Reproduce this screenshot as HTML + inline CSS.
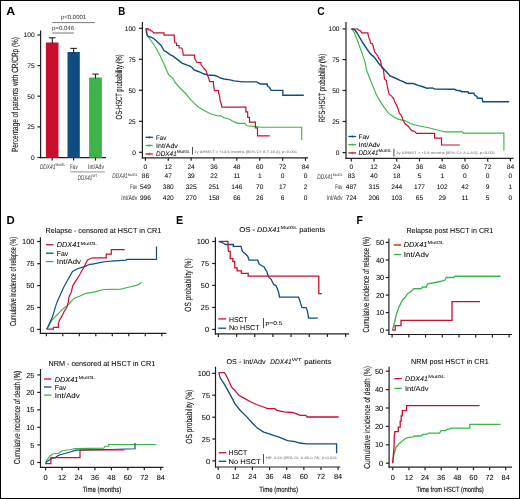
<!DOCTYPE html>
<html><head><meta charset="utf-8"><style>
html,body{margin:0;padding:0;background:#fff;}
body{width:520px;height:499px;overflow:hidden;}
svg{display:block;will-change:transform;text-rendering:geometricPrecision;font-family:"Liberation Sans",sans-serif;}
</style></head><body>
<svg width="520" height="499" viewBox="0 0 520 499">
<rect x="0.5" y="0.5" width="519" height="498" fill="#fff" stroke="#000" stroke-width="1"/>
<text x="6.3" y="15.44" font-size="11.5" textLength="8.9" lengthAdjust="spacingAndGlyphs" font-weight="bold">A</text>
<line x1="40.6" y1="30.6" x2="40.6" y2="158.3" stroke="#231f20" stroke-width="1.2"/>
<line x1="40.05" y1="157.7" x2="106" y2="157.7" stroke="#231f20" stroke-width="1.2"/>
<line x1="37.4" y1="35" x2="40.6" y2="35" stroke="#231f20" stroke-width="1.2"/>
<text x="34.6" y="37.38" font-size="6.6" text-anchor="end" stroke="#231f20" stroke-width="0.05">100</text>
<line x1="37.4" y1="65.6" x2="40.6" y2="65.6" stroke="#231f20" stroke-width="1.2"/>
<text x="34.6" y="67.98" font-size="6.6" text-anchor="end" stroke="#231f20" stroke-width="0.05">75</text>
<line x1="37.4" y1="96.2" x2="40.6" y2="96.2" stroke="#231f20" stroke-width="1.2"/>
<text x="34.6" y="98.58" font-size="6.6" text-anchor="end" stroke="#231f20" stroke-width="0.05">50</text>
<line x1="37.4" y1="126.9" x2="40.6" y2="126.9" stroke="#231f20" stroke-width="1.2"/>
<text x="34.6" y="129.28" font-size="6.6" text-anchor="end" stroke="#231f20" stroke-width="0.05">25</text>
<line x1="37.4" y1="157.5" x2="40.6" y2="157.5" stroke="#231f20" stroke-width="1.2"/>
<text x="34.6" y="159.88" font-size="6.6" text-anchor="end" stroke="#231f20" stroke-width="0.05">0</text>
<rect x="45.9" y="42.5" width="12.6" height="115.2" fill="#c8102e"/>
<rect x="67.5" y="52" width="12.3" height="105.7" fill="#0f4c81"/>
<rect x="89.1" y="77.5" width="12.8" height="80.2" fill="#3db54a"/>
<line x1="52.3" y1="37.8" x2="52.3" y2="43.5" stroke="#231f20" stroke-width="1.1"/>
<line x1="49.1" y1="37.8" x2="55.5" y2="37.8" stroke="#231f20" stroke-width="1.1"/>
<line x1="73.6" y1="48.4" x2="73.6" y2="53" stroke="#231f20" stroke-width="1.1"/>
<line x1="70.4" y1="48.4" x2="76.8" y2="48.4" stroke="#231f20" stroke-width="1.1"/>
<line x1="95.5" y1="74.1" x2="95.5" y2="78.5" stroke="#231f20" stroke-width="1.1"/>
<line x1="92.3" y1="74.1" x2="98.7" y2="74.1" stroke="#231f20" stroke-width="1.1"/>
<line x1="52.2" y1="157.7" x2="52.2" y2="160.6" stroke="#231f20" stroke-width="1.2"/>
<line x1="73.6" y1="157.7" x2="73.6" y2="160.6" stroke="#231f20" stroke-width="1.2"/>
<line x1="95.5" y1="157.7" x2="95.5" y2="160.6" stroke="#231f20" stroke-width="1.2"/>
<line x1="52.3" y1="22.6" x2="94.9" y2="22.6" stroke="#555" stroke-width="0.8"/>
<line x1="52.3" y1="33" x2="74" y2="33" stroke="#555" stroke-width="0.8"/>
<text x="61" y="18.86" font-size="6" textLength="25.2" lengthAdjust="spacingAndGlyphs" fill="#444" stroke="#444" stroke-width="0.04">p&lt;0.0001</text>
<text x="52" y="30.06" font-size="6" textLength="22" lengthAdjust="spacingAndGlyphs" fill="#444" stroke="#444" stroke-width="0.04">p=0.046</text>
<text transform="translate(14.8,94.6) rotate(-90)" x="0" y="3.24" font-size="9" text-anchor="middle" textLength="115" lengthAdjust="spacingAndGlyphs" stroke="#231f20" stroke-width="0.08">Percentage of patients with CR/CRp (%)</text>
<text x="39.9" y="169.15" font-size="6.8" textLength="15.5" lengthAdjust="spacingAndGlyphs" font-style="italic" fill="#444" stroke="#444" stroke-width="0.05">DDX41</text>
<text x="55.6" y="166.44" font-size="4" textLength="9.6" lengthAdjust="spacingAndGlyphs" fill="#444" stroke="#444" stroke-width="0.03">MutGL</text>
<text x="70" y="169.15" font-size="6.8" textLength="7.7" lengthAdjust="spacingAndGlyphs" fill="#444" stroke="#444" stroke-width="0.05">Fav</text>
<text x="88.1" y="169.15" font-size="6.8" textLength="15.9" lengthAdjust="spacingAndGlyphs" fill="#444" stroke="#444" stroke-width="0.05">Int/Adv</text>
<line x1="70" y1="171.9" x2="104.75" y2="171.9" stroke="#888" stroke-width="0.9"/>
<text x="77.7" y="179.85" font-size="6.8" textLength="14.5" lengthAdjust="spacingAndGlyphs" font-style="italic" fill="#444" stroke="#444" stroke-width="0.05">DDX41</text>
<text x="92.4" y="177.04" font-size="4" textLength="4.7" lengthAdjust="spacingAndGlyphs" fill="#444" stroke="#444" stroke-width="0.03">WT</text>
<text x="118.3" y="15.44" font-size="11.5" textLength="7" lengthAdjust="spacingAndGlyphs" font-weight="bold">B</text>
<line x1="142.4" y1="21.9" x2="142.4" y2="158.4" stroke="#231f20" stroke-width="1.2"/>
<line x1="141.85" y1="157.8" x2="308" y2="157.8" stroke="#231f20" stroke-width="1.2"/>
<line x1="139" y1="28.3" x2="142.4" y2="28.3" stroke="#231f20" stroke-width="1.2"/>
<text x="135.8" y="30.68" font-size="6.6" text-anchor="end" stroke="#231f20" stroke-width="0.05">100</text>
<line x1="139" y1="59.3" x2="142.4" y2="59.3" stroke="#231f20" stroke-width="1.2"/>
<text x="135.8" y="61.68" font-size="6.6" text-anchor="end" stroke="#231f20" stroke-width="0.05">75</text>
<line x1="139" y1="90.3" x2="142.4" y2="90.3" stroke="#231f20" stroke-width="1.2"/>
<text x="135.8" y="92.68" font-size="6.6" text-anchor="end" stroke="#231f20" stroke-width="0.05">50</text>
<line x1="139" y1="121.3" x2="142.4" y2="121.3" stroke="#231f20" stroke-width="1.2"/>
<text x="135.8" y="123.68" font-size="6.6" text-anchor="end" stroke="#231f20" stroke-width="0.05">25</text>
<line x1="139" y1="152.3" x2="142.4" y2="152.3" stroke="#231f20" stroke-width="1.2"/>
<text x="135.8" y="154.68" font-size="6.6" text-anchor="end" stroke="#231f20" stroke-width="0.05">0</text>
<line x1="145.4" y1="157.8" x2="145.4" y2="160.8" stroke="#231f20" stroke-width="1.2"/>
<text x="145.4" y="168.58" font-size="6.6" text-anchor="middle" stroke="#231f20" stroke-width="0.05">0</text>
<line x1="168.27" y1="157.8" x2="168.27" y2="160.8" stroke="#231f20" stroke-width="1.2"/>
<text x="168.27" y="168.58" font-size="6.6" text-anchor="middle" stroke="#231f20" stroke-width="0.05">12</text>
<line x1="191.14" y1="157.8" x2="191.14" y2="160.8" stroke="#231f20" stroke-width="1.2"/>
<text x="191.14" y="168.58" font-size="6.6" text-anchor="middle" stroke="#231f20" stroke-width="0.05">24</text>
<line x1="214.01" y1="157.8" x2="214.01" y2="160.8" stroke="#231f20" stroke-width="1.2"/>
<text x="214.01" y="168.58" font-size="6.6" text-anchor="middle" stroke="#231f20" stroke-width="0.05">36</text>
<line x1="236.88" y1="157.8" x2="236.88" y2="160.8" stroke="#231f20" stroke-width="1.2"/>
<text x="236.88" y="168.58" font-size="6.6" text-anchor="middle" stroke="#231f20" stroke-width="0.05">48</text>
<line x1="259.75" y1="157.8" x2="259.75" y2="160.8" stroke="#231f20" stroke-width="1.2"/>
<text x="259.75" y="168.58" font-size="6.6" text-anchor="middle" stroke="#231f20" stroke-width="0.05">60</text>
<line x1="282.62" y1="157.8" x2="282.62" y2="160.8" stroke="#231f20" stroke-width="1.2"/>
<text x="282.62" y="168.58" font-size="6.6" text-anchor="middle" stroke="#231f20" stroke-width="0.05">72</text>
<line x1="305.49" y1="157.8" x2="305.49" y2="160.8" stroke="#231f20" stroke-width="1.2"/>
<text x="305.49" y="168.58" font-size="6.6" text-anchor="middle" stroke="#231f20" stroke-width="0.05">84</text>
<text transform="translate(118.5,86.9) rotate(-90)" x="0" y="3.24" font-size="9" text-anchor="middle" textLength="65" lengthAdjust="spacingAndGlyphs" stroke="#231f20" stroke-width="0.08">OS-HSCT probability (%)</text>
<text x="145.4" y="178.18" font-size="6.6" text-anchor="middle" stroke="#231f20" stroke-width="0.05">86</text>
<text x="168.27" y="178.18" font-size="6.6" text-anchor="middle" stroke="#231f20" stroke-width="0.05">47</text>
<text x="191.14" y="178.18" font-size="6.6" text-anchor="middle" stroke="#231f20" stroke-width="0.05">39</text>
<text x="214.01" y="178.18" font-size="6.6" text-anchor="middle" stroke="#231f20" stroke-width="0.05">22</text>
<text x="236.88" y="178.18" font-size="6.6" text-anchor="middle" stroke="#231f20" stroke-width="0.05">11</text>
<text x="259.75" y="178.18" font-size="6.6" text-anchor="middle" stroke="#231f20" stroke-width="0.05">1</text>
<text x="282.62" y="178.18" font-size="6.6" text-anchor="middle" stroke="#231f20" stroke-width="0.05">0</text>
<text x="305.49" y="178.18" font-size="6.6" text-anchor="middle" stroke="#231f20" stroke-width="0.05">0</text>
<text x="145.4" y="188.78" font-size="6.6" text-anchor="middle" stroke="#231f20" stroke-width="0.05">549</text>
<text x="168.27" y="188.78" font-size="6.6" text-anchor="middle" stroke="#231f20" stroke-width="0.05">380</text>
<text x="191.14" y="188.78" font-size="6.6" text-anchor="middle" stroke="#231f20" stroke-width="0.05">325</text>
<text x="214.01" y="188.78" font-size="6.6" text-anchor="middle" stroke="#231f20" stroke-width="0.05">251</text>
<text x="236.88" y="188.78" font-size="6.6" text-anchor="middle" stroke="#231f20" stroke-width="0.05">146</text>
<text x="259.75" y="188.78" font-size="6.6" text-anchor="middle" stroke="#231f20" stroke-width="0.05">70</text>
<text x="282.62" y="188.78" font-size="6.6" text-anchor="middle" stroke="#231f20" stroke-width="0.05">17</text>
<text x="305.49" y="188.78" font-size="6.6" text-anchor="middle" stroke="#231f20" stroke-width="0.05">2</text>
<text x="145.4" y="200.08" font-size="6.6" text-anchor="middle" stroke="#231f20" stroke-width="0.05">996</text>
<text x="168.27" y="200.08" font-size="6.6" text-anchor="middle" stroke="#231f20" stroke-width="0.05">420</text>
<text x="191.14" y="200.08" font-size="6.6" text-anchor="middle" stroke="#231f20" stroke-width="0.05">270</text>
<text x="214.01" y="200.08" font-size="6.6" text-anchor="middle" stroke="#231f20" stroke-width="0.05">158</text>
<text x="236.88" y="200.08" font-size="6.6" text-anchor="middle" stroke="#231f20" stroke-width="0.05">66</text>
<text x="259.75" y="200.08" font-size="6.6" text-anchor="middle" stroke="#231f20" stroke-width="0.05">26</text>
<text x="282.62" y="200.08" font-size="6.6" text-anchor="middle" stroke="#231f20" stroke-width="0.05">6</text>
<text x="305.49" y="200.08" font-size="6.6" text-anchor="middle" stroke="#231f20" stroke-width="0.05">0</text>
<text x="137.2" y="188.95" font-size="6.8" text-anchor="end" textLength="7.2" lengthAdjust="spacingAndGlyphs" fill="#444" stroke="#444" stroke-width="0.05">Fav</text>
<text x="137.2" y="200.25" font-size="6.8" text-anchor="end" textLength="15.9" lengthAdjust="spacingAndGlyphs" fill="#444" stroke="#444" stroke-width="0.05">Int/Adv</text>
<text x="317.2" y="15.44" font-size="11.5" textLength="7.4" lengthAdjust="spacingAndGlyphs" font-weight="bold">C</text>
<line x1="346" y1="21.9" x2="346" y2="159" stroke="#231f20" stroke-width="1.2"/>
<line x1="345.45" y1="158.4" x2="513.6" y2="158.4" stroke="#231f20" stroke-width="1.2"/>
<line x1="342.5" y1="28.9" x2="346" y2="28.9" stroke="#231f20" stroke-width="1.2"/>
<text x="339.5" y="31.28" font-size="6.6" text-anchor="end" stroke="#231f20" stroke-width="0.05">100</text>
<line x1="342.5" y1="59.6" x2="346" y2="59.6" stroke="#231f20" stroke-width="1.2"/>
<text x="339.5" y="61.98" font-size="6.6" text-anchor="end" stroke="#231f20" stroke-width="0.05">75</text>
<line x1="342.5" y1="90.5" x2="346" y2="90.5" stroke="#231f20" stroke-width="1.2"/>
<text x="339.5" y="92.88" font-size="6.6" text-anchor="end" stroke="#231f20" stroke-width="0.05">50</text>
<line x1="342.5" y1="121.5" x2="346" y2="121.5" stroke="#231f20" stroke-width="1.2"/>
<text x="339.5" y="123.88" font-size="6.6" text-anchor="end" stroke="#231f20" stroke-width="0.05">25</text>
<line x1="342.5" y1="152.6" x2="346" y2="152.6" stroke="#231f20" stroke-width="1.2"/>
<text x="339.5" y="154.98" font-size="6.6" text-anchor="end" stroke="#231f20" stroke-width="0.05">0</text>
<line x1="351.3" y1="158.4" x2="351.3" y2="161.4" stroke="#231f20" stroke-width="1.2"/>
<text x="351.3" y="169.38" font-size="6.6" text-anchor="middle" stroke="#231f20" stroke-width="0.05">0</text>
<line x1="374.03" y1="158.4" x2="374.03" y2="161.4" stroke="#231f20" stroke-width="1.2"/>
<text x="374.03" y="169.38" font-size="6.6" text-anchor="middle" stroke="#231f20" stroke-width="0.05">12</text>
<line x1="396.76" y1="158.4" x2="396.76" y2="161.4" stroke="#231f20" stroke-width="1.2"/>
<text x="396.76" y="169.38" font-size="6.6" text-anchor="middle" stroke="#231f20" stroke-width="0.05">24</text>
<line x1="419.49" y1="158.4" x2="419.49" y2="161.4" stroke="#231f20" stroke-width="1.2"/>
<text x="419.49" y="169.38" font-size="6.6" text-anchor="middle" stroke="#231f20" stroke-width="0.05">36</text>
<line x1="442.22" y1="158.4" x2="442.22" y2="161.4" stroke="#231f20" stroke-width="1.2"/>
<text x="442.22" y="169.38" font-size="6.6" text-anchor="middle" stroke="#231f20" stroke-width="0.05">48</text>
<line x1="464.95" y1="158.4" x2="464.95" y2="161.4" stroke="#231f20" stroke-width="1.2"/>
<text x="464.95" y="169.38" font-size="6.6" text-anchor="middle" stroke="#231f20" stroke-width="0.05">60</text>
<line x1="487.68" y1="158.4" x2="487.68" y2="161.4" stroke="#231f20" stroke-width="1.2"/>
<text x="487.68" y="169.38" font-size="6.6" text-anchor="middle" stroke="#231f20" stroke-width="0.05">72</text>
<line x1="510.41" y1="158.4" x2="510.41" y2="161.4" stroke="#231f20" stroke-width="1.2"/>
<text x="510.41" y="169.38" font-size="6.6" text-anchor="middle" stroke="#231f20" stroke-width="0.05">84</text>
<text transform="translate(321.4,88.1) rotate(-90)" x="0" y="3.24" font-size="9" text-anchor="middle" textLength="68.5" lengthAdjust="spacingAndGlyphs" stroke="#231f20" stroke-width="0.08">RFS-HSCT probability (%)</text>
<text x="351.3" y="178.38" font-size="6.6" text-anchor="middle" stroke="#231f20" stroke-width="0.05">83</text>
<text x="374.03" y="178.38" font-size="6.6" text-anchor="middle" stroke="#231f20" stroke-width="0.05">40</text>
<text x="396.76" y="178.38" font-size="6.6" text-anchor="middle" stroke="#231f20" stroke-width="0.05">18</text>
<text x="419.49" y="178.38" font-size="6.6" text-anchor="middle" stroke="#231f20" stroke-width="0.05">5</text>
<text x="442.22" y="178.38" font-size="6.6" text-anchor="middle" stroke="#231f20" stroke-width="0.05">1</text>
<text x="464.95" y="178.38" font-size="6.6" text-anchor="middle" stroke="#231f20" stroke-width="0.05">0</text>
<text x="487.68" y="178.38" font-size="6.6" text-anchor="middle" stroke="#231f20" stroke-width="0.05">0</text>
<text x="510.41" y="178.38" font-size="6.6" text-anchor="middle" stroke="#231f20" stroke-width="0.05">0</text>
<text x="351.3" y="188.88" font-size="6.6" text-anchor="middle" stroke="#231f20" stroke-width="0.05">487</text>
<text x="374.03" y="188.88" font-size="6.6" text-anchor="middle" stroke="#231f20" stroke-width="0.05">315</text>
<text x="396.76" y="188.88" font-size="6.6" text-anchor="middle" stroke="#231f20" stroke-width="0.05">244</text>
<text x="419.49" y="188.88" font-size="6.6" text-anchor="middle" stroke="#231f20" stroke-width="0.05">177</text>
<text x="442.22" y="188.88" font-size="6.6" text-anchor="middle" stroke="#231f20" stroke-width="0.05">102</text>
<text x="464.95" y="188.88" font-size="6.6" text-anchor="middle" stroke="#231f20" stroke-width="0.05">42</text>
<text x="487.68" y="188.88" font-size="6.6" text-anchor="middle" stroke="#231f20" stroke-width="0.05">9</text>
<text x="510.41" y="188.88" font-size="6.6" text-anchor="middle" stroke="#231f20" stroke-width="0.05">1</text>
<text x="351.3" y="200.08" font-size="6.6" text-anchor="middle" stroke="#231f20" stroke-width="0.05">724</text>
<text x="374.03" y="200.08" font-size="6.6" text-anchor="middle" stroke="#231f20" stroke-width="0.05">206</text>
<text x="396.76" y="200.08" font-size="6.6" text-anchor="middle" stroke="#231f20" stroke-width="0.05">103</text>
<text x="419.49" y="200.08" font-size="6.6" text-anchor="middle" stroke="#231f20" stroke-width="0.05">65</text>
<text x="442.22" y="200.08" font-size="6.6" text-anchor="middle" stroke="#231f20" stroke-width="0.05">29</text>
<text x="464.95" y="200.08" font-size="6.6" text-anchor="middle" stroke="#231f20" stroke-width="0.05">11</text>
<text x="487.68" y="200.08" font-size="6.6" text-anchor="middle" stroke="#231f20" stroke-width="0.05">5</text>
<text x="510.41" y="200.08" font-size="6.6" text-anchor="middle" stroke="#231f20" stroke-width="0.05">0</text>
<text x="342.5" y="188.95" font-size="6.8" text-anchor="end" textLength="7.2" lengthAdjust="spacingAndGlyphs" fill="#444" stroke="#444" stroke-width="0.05">Fav</text>
<text x="342.5" y="200.25" font-size="6.8" text-anchor="end" textLength="15.9" lengthAdjust="spacingAndGlyphs" fill="#444" stroke="#444" stroke-width="0.05">Int/Adv</text>
<polyline points="146,28.5 146.5,30 147.5,36 152,42 156,48 160.5,56.6 164,64.1 166.5,70 168.5,74.5 173,78.5 175,82.5 180,88 186.1,94 190.1,99.1 195.1,104.1 199,107.5 205,111 211,114 218,116 221,115.8 224.1,117.8 229.1,119 234.1,121.9 238.1,123.3 244.9,123.3 247,125.8 253.3,126.4 261,127.2 301.7,127.2 301.7,140.2" fill="none" stroke="#3db54a" stroke-width="1.15" stroke-linejoin="miter"/>
<polyline points="146,28.5 146.5,33 147.5,35.8 150,36.8 153,38 156,40.5 161,45.5 164,50.6 167.5,52.6 170,54.6 173,56.1 177,59.1 182,63.1 187.1,65.1 190,66 192,67.5 194,70 197,71 200,72.2 204,74 208,75 215,75.5 218,76.5 220,78 224.1,79 230.1,79.9 234.1,80.9 242.8,81.9 256.8,81.9 258.2,82.9 260.3,84 267.3,84 267.3,85.7 269.5,87.5 271.1,90.3 282.8,90.3 282.8,95.2 303.8,95.2" fill="none" stroke="#0f4c81" stroke-width="1.35" stroke-linejoin="miter"/>
<polyline points="146,28.5 148,28.6 148,29.8 150.5,29.8 151,30.8 152.5,31.5 153.5,32.8 164,32.8 164,35.2 174.3,35.2 174.3,40 175,43 176.6,43 176.6,45.5 179.1,45.5 179.1,48 181.6,48 182.6,50 183.3,55.2 194.5,55.2 194.5,58 195.5,60 197,62.5 201,62.5 201,64.5 202.5,66.5 204,68.5 206,70.5 207,73.5 208,76.5 209,79 209.5,81.6 213.5,81.6 213.5,84.6 214,88 214.5,90.6 218.6,90.6 218.6,93.1 219.6,96.1 220,100 221,103 222,107.2 245.9,107.2 245.9,111.8 247.7,111.8 247.7,117.4 249.5,117.4 249.5,122.2 255.4,122.2 255.4,127.8 257.5,127.8 257.5,135.9 269.7,135.9" fill="none" stroke="#c8102e" stroke-width="1.2" stroke-linejoin="miter"/>
<line x1="145.5" y1="137.3" x2="152.9" y2="137.3" stroke="#0f4c81" stroke-width="1.3"/>
<line x1="149.2" y1="136" x2="149.2" y2="138.6" stroke="#0f4c81" stroke-width="0.7"/>
<line x1="145.5" y1="145.5" x2="152.9" y2="145.5" stroke="#3db54a" stroke-width="1.3"/>
<line x1="149.2" y1="144.2" x2="149.2" y2="146.8" stroke="#3db54a" stroke-width="0.7"/>
<line x1="145.5" y1="154" x2="152.9" y2="154" stroke="#c8102e" stroke-width="1.3"/>
<line x1="149.2" y1="152.7" x2="149.2" y2="155.3" stroke="#c8102e" stroke-width="0.7"/>
<text x="156.1" y="139.88" font-size="6.6" textLength="10.2" lengthAdjust="spacingAndGlyphs" stroke="#231f20" stroke-width="0.06">Fav</text>
<text x="156.1" y="147.88" font-size="6.6" textLength="21.7" lengthAdjust="spacingAndGlyphs" stroke="#231f20" stroke-width="0.06">Int/Adv</text>
<text x="156.1" y="156.05" font-size="6.8" textLength="20.6" lengthAdjust="spacingAndGlyphs" font-style="italic" stroke="#231f20" stroke-width="0.06">DDX41</text>
<text x="177" y="152.95" font-size="4.3" textLength="13" lengthAdjust="spacingAndGlyphs" stroke="#231f20" stroke-width="0.04">MutGL</text>
<line x1="192.5" y1="147" x2="192.5" y2="154.5" stroke="#231f20" stroke-width="0.8"/>
<g transform="translate(194.2,151.3) scale(0.5)">
<text x="0" y="2.59" font-size="7.2" textLength="206" lengthAdjust="spacingAndGlyphs" fill="#666">1y ΔRMST = +13.6 months [95% CI: 8.7-18.4], p&lt;0.001</text>
</g>
<polyline points="351.5,29 354,32 358,42 362,53.1 365,62.1 366.5,70 370,79 375,91.1 376,94.1 380,101.1 384,107.1 388.5,113.1 393.1,116.5 398.8,119.4 404.6,120.6 410.4,123.5 416.1,125.2 423.1,126.7 428.8,127.8 434.6,129.2 441.5,131 445.3,131.9 462.6,131.9 463.3,133.1 503.9,133.1 503.9,150.7" fill="none" stroke="#3db54a" stroke-width="1.15" stroke-linejoin="miter"/>
<polyline points="351.5,29 354.5,29.5 357,33 360,38 363,43 367,49.1 370,53.6 373.6,56.6 376.1,59.6 379.1,64.1 383,68 386.6,72 390.1,76 395.1,78 400.1,80.3 402.7,81.4 406.7,83.5 413.5,83.5 417.5,85.1 422.9,86.8 426.9,88.2 432.3,87.9 435,89.1 454.3,89.3 456.5,90.2 460.3,90.8 461.8,91.7 467.8,91.7 468.6,93.2 473.8,93.2 474.6,95 476.8,96.5 477.6,98.3 482.1,98.3 482.9,101.8 509.2,101.8" fill="none" stroke="#0f4c81" stroke-width="1.45" stroke-linejoin="miter"/>
<polyline points="351.5,29 358,29 358,30 359,30 361,31.2 361.5,32.8 368,32.8 368,34.5 369,38 370,40.5 370.5,43 372.6,44 373.6,48 374.6,51.6 376.1,54 377.6,55.6 378.6,58.1 380.6,60.6 381.1,64.1 382.1,68 383.5,70 384,75 384.5,79 386.3,80.5 387.6,88 389.1,94.1 391.6,96.1 393.6,98.6 395.1,102.6 397.1,106.1 398.3,109.6 399.4,113.1 401.7,116 402.9,120 405.2,124 407.5,125.5 409.8,128.1 411.5,130.4 415,131.8 416.4,133.3 434.6,133.3 434.6,138.2 441.5,138.2 441.5,145 459.8,145" fill="none" stroke="#c8102e" stroke-width="1.2" stroke-linejoin="miter"/>
<line x1="348.4" y1="136.5" x2="356.1" y2="136.5" stroke="#0f4c81" stroke-width="1.3"/>
<line x1="352.25" y1="135.2" x2="352.25" y2="137.8" stroke="#0f4c81" stroke-width="0.7"/>
<line x1="348.4" y1="144.6" x2="356.1" y2="144.6" stroke="#3db54a" stroke-width="1.3"/>
<line x1="352.25" y1="143.3" x2="352.25" y2="145.9" stroke="#3db54a" stroke-width="0.7"/>
<line x1="348.4" y1="152.9" x2="356.1" y2="152.9" stroke="#c8102e" stroke-width="1.3"/>
<line x1="352.25" y1="151.6" x2="352.25" y2="154.2" stroke="#c8102e" stroke-width="0.7"/>
<text x="358.5" y="139.18" font-size="6.6" textLength="10.8" lengthAdjust="spacingAndGlyphs" stroke="#231f20" stroke-width="0.06">Fav</text>
<text x="358.5" y="147.18" font-size="6.6" textLength="21.6" lengthAdjust="spacingAndGlyphs" stroke="#231f20" stroke-width="0.06">Int/Adv</text>
<text x="358.5" y="155.25" font-size="6.8" textLength="19.8" lengthAdjust="spacingAndGlyphs" font-style="italic" stroke="#231f20" stroke-width="0.06">DDX41</text>
<text x="378.6" y="152.35" font-size="4.3" textLength="13.2" lengthAdjust="spacingAndGlyphs" stroke="#231f20" stroke-width="0.04">MutGL</text>
<line x1="393.9" y1="148.8" x2="393.9" y2="156.5" stroke="#231f20" stroke-width="0.8"/>
<g transform="translate(396.2,152.6) scale(0.5)">
<text x="0" y="2.59" font-size="7.2" textLength="198" lengthAdjust="spacingAndGlyphs" fill="#666">3y ΔRMST = +5.8 months [95% CI: 3.1-8.5], p&lt;0.001</text>
</g>
<text x="127.6" y="178.35" font-size="6.8" text-anchor="end" textLength="15.4" lengthAdjust="spacingAndGlyphs" font-style="italic" fill="#444" stroke="#444" stroke-width="0.05">DDX41</text>
<text x="127.8" y="175.87" font-size="3.8" textLength="9.9" lengthAdjust="spacingAndGlyphs" fill="#444" stroke="#444" stroke-width="0.03">MutGL</text>
<text x="332.6" y="178.55" font-size="6.8" text-anchor="end" textLength="15.4" lengthAdjust="spacingAndGlyphs" font-style="italic" fill="#444" stroke="#444" stroke-width="0.05">DDX41</text>
<text x="332.8" y="175.87" font-size="3.8" textLength="9.9" lengthAdjust="spacingAndGlyphs" fill="#444" stroke="#444" stroke-width="0.03">MutGL</text>
<text x="6.6" y="223.94" font-size="11.5" textLength="8.2" lengthAdjust="spacingAndGlyphs" font-weight="bold">D</text>
<text x="45.5" y="233.38" font-size="7.3" textLength="115.8" lengthAdjust="spacingAndGlyphs" stroke="#231f20" stroke-width="0.06">Relapse - censored at HSCT in CR1</text>
<line x1="40.4" y1="237.3" x2="40.4" y2="333.85" stroke="#231f20" stroke-width="1.2"/>
<line x1="39.85" y1="333.3" x2="166.4" y2="333.3" stroke="#231f20" stroke-width="1.2"/>
<line x1="37.2" y1="241.5" x2="40.4" y2="241.5" stroke="#231f20" stroke-width="1.2"/>
<text x="34.4" y="244.16" font-size="7.4" text-anchor="end" stroke="#231f20" stroke-width="0.05">100</text>
<line x1="37.2" y1="263.7" x2="40.4" y2="263.7" stroke="#231f20" stroke-width="1.2"/>
<text x="34.4" y="266.36" font-size="7.4" text-anchor="end" stroke="#231f20" stroke-width="0.05">75</text>
<line x1="37.2" y1="285.6" x2="40.4" y2="285.6" stroke="#231f20" stroke-width="1.2"/>
<text x="34.4" y="288.26" font-size="7.4" text-anchor="end" stroke="#231f20" stroke-width="0.05">50</text>
<line x1="37.2" y1="307.5" x2="40.4" y2="307.5" stroke="#231f20" stroke-width="1.2"/>
<text x="34.4" y="310.16" font-size="7.4" text-anchor="end" stroke="#231f20" stroke-width="0.05">25</text>
<line x1="37.2" y1="329.4" x2="40.4" y2="329.4" stroke="#231f20" stroke-width="1.2"/>
<text x="34.4" y="332.06" font-size="7.4" text-anchor="end" stroke="#231f20" stroke-width="0.05">0</text>
<line x1="46.3" y1="333.3" x2="46.3" y2="336.3" stroke="#231f20" stroke-width="1.2"/>
<line x1="62.8" y1="333.3" x2="62.8" y2="336.3" stroke="#231f20" stroke-width="1.2"/>
<line x1="79.3" y1="333.3" x2="79.3" y2="336.3" stroke="#231f20" stroke-width="1.2"/>
<line x1="95.8" y1="333.3" x2="95.8" y2="336.3" stroke="#231f20" stroke-width="1.2"/>
<line x1="112.3" y1="333.3" x2="112.3" y2="336.3" stroke="#231f20" stroke-width="1.2"/>
<line x1="128.8" y1="333.3" x2="128.8" y2="336.3" stroke="#231f20" stroke-width="1.2"/>
<line x1="145.3" y1="333.3" x2="145.3" y2="336.3" stroke="#231f20" stroke-width="1.2"/>
<line x1="161.8" y1="333.3" x2="161.8" y2="336.3" stroke="#231f20" stroke-width="1.2"/>
<text transform="translate(13.1,281.5) rotate(-90)" x="0" y="3.17" font-size="8.8" text-anchor="middle" textLength="89" lengthAdjust="spacingAndGlyphs" stroke="#231f20" stroke-width="0.08">Cumulative incidence of relapse (%)</text>
<polyline points="46.8,329.2 52.4,319.5 57.2,314.7 63.2,308.7 68,305 74,298.4 80.1,296 86.1,293.3 94,292.2 103.8,289.5 120.8,289.2 125.4,288 131.5,286.5 136.2,285.4 139.2,284.3 141.5,282.3" fill="none" stroke="#3db54a" stroke-width="1.2" stroke-linejoin="miter"/>
<polyline points="46.8,329.2 52.4,317.1 56.6,303.2 63.2,288.2 67.1,281 72.5,271.4 77.5,268.8 84.4,266.6 90,264.3 93.8,263.9 100.6,262.4 106.9,261.5 114.6,260.8 126.2,260.2 126.9,259.4 156.5,259.4 156.5,246.5" fill="none" stroke="#0f4c81" stroke-width="1.2" stroke-linejoin="miter"/>
<polyline points="46.8,329.2 53.4,329.2 53.4,327.3 58.4,327.3 58.4,323.1 59.6,320.1 62,315.9 64.4,311.1 66.8,307.5 68,303.8 69.2,296 71,293 72.8,285.8 75.3,281.6 79.5,275 84.1,266.7 87.5,260 92.5,257.8 106.2,257.8 106.2,254.2 111.3,254.2 111.3,249.6 124.8,249.6" fill="none" stroke="#c8102e" stroke-width="1.2" stroke-linejoin="miter"/>
<line x1="46" y1="244.7" x2="53.5" y2="244.7" stroke="#c8102e" stroke-width="1.3"/>
<line x1="46" y1="253.2" x2="53.5" y2="253.2" stroke="#0f4c81" stroke-width="1.3"/>
<line x1="46" y1="261.6" x2="53.5" y2="261.6" stroke="#3db54a" stroke-width="1.3"/>
<text x="56.8" y="247.39" font-size="7.2" textLength="23.6" lengthAdjust="spacingAndGlyphs" font-style="italic" stroke="#231f20" stroke-width="0.06">DDX41</text>
<text x="80.6" y="244.58" font-size="4.4" textLength="16.6" lengthAdjust="spacingAndGlyphs" stroke="#231f20" stroke-width="0.04">MutGL</text>
<text x="56.8" y="256.09" font-size="7.2" textLength="11.5" lengthAdjust="spacingAndGlyphs" stroke="#231f20" stroke-width="0.06">Fav</text>
<text x="56.8" y="264.29" font-size="7.2" textLength="24.2" lengthAdjust="spacingAndGlyphs" stroke="#231f20" stroke-width="0.06">Int/Adv</text>
<text x="48.4" y="365.73" font-size="7.3" textLength="106.8" lengthAdjust="spacingAndGlyphs" stroke="#231f20" stroke-width="0.06">NRM - censored at HSCT in CR1</text>
<line x1="40.5" y1="369" x2="40.5" y2="467.85" stroke="#231f20" stroke-width="1.2"/>
<line x1="39.95" y1="467.3" x2="163.5" y2="467.3" stroke="#231f20" stroke-width="1.2"/>
<line x1="37.3" y1="374.9" x2="40.5" y2="374.9" stroke="#231f20" stroke-width="1.2"/>
<text x="34.4" y="377.56" font-size="7.4" text-anchor="end" stroke="#231f20" stroke-width="0.05">25</text>
<line x1="37.3" y1="392.4" x2="40.5" y2="392.4" stroke="#231f20" stroke-width="1.2"/>
<text x="34.4" y="395.06" font-size="7.4" text-anchor="end" stroke="#231f20" stroke-width="0.05">20</text>
<line x1="37.3" y1="409.8" x2="40.5" y2="409.8" stroke="#231f20" stroke-width="1.2"/>
<text x="34.4" y="412.46" font-size="7.4" text-anchor="end" stroke="#231f20" stroke-width="0.05">15</text>
<line x1="37.3" y1="427.3" x2="40.5" y2="427.3" stroke="#231f20" stroke-width="1.2"/>
<text x="34.4" y="429.96" font-size="7.4" text-anchor="end" stroke="#231f20" stroke-width="0.05">10</text>
<line x1="37.3" y1="444.9" x2="40.5" y2="444.9" stroke="#231f20" stroke-width="1.2"/>
<text x="34.4" y="447.56" font-size="7.4" text-anchor="end" stroke="#231f20" stroke-width="0.05">5</text>
<line x1="37.3" y1="462.5" x2="40.5" y2="462.5" stroke="#231f20" stroke-width="1.2"/>
<text x="34.4" y="465.16" font-size="7.4" text-anchor="end" stroke="#231f20" stroke-width="0.05">0</text>
<line x1="45.6" y1="467.3" x2="45.6" y2="470.3" stroke="#231f20" stroke-width="1.2"/>
<text x="45.6" y="480.16" font-size="7.4" text-anchor="middle" stroke="#231f20" stroke-width="0.05">0</text>
<line x1="62.05" y1="467.3" x2="62.05" y2="470.3" stroke="#231f20" stroke-width="1.2"/>
<text x="62.05" y="480.16" font-size="7.4" text-anchor="middle" stroke="#231f20" stroke-width="0.05">12</text>
<line x1="78.5" y1="467.3" x2="78.5" y2="470.3" stroke="#231f20" stroke-width="1.2"/>
<text x="78.5" y="480.16" font-size="7.4" text-anchor="middle" stroke="#231f20" stroke-width="0.05">24</text>
<line x1="94.95" y1="467.3" x2="94.95" y2="470.3" stroke="#231f20" stroke-width="1.2"/>
<text x="94.95" y="480.16" font-size="7.4" text-anchor="middle" stroke="#231f20" stroke-width="0.05">36</text>
<line x1="111.4" y1="467.3" x2="111.4" y2="470.3" stroke="#231f20" stroke-width="1.2"/>
<text x="111.4" y="480.16" font-size="7.4" text-anchor="middle" stroke="#231f20" stroke-width="0.05">48</text>
<line x1="127.85" y1="467.3" x2="127.85" y2="470.3" stroke="#231f20" stroke-width="1.2"/>
<text x="127.85" y="480.16" font-size="7.4" text-anchor="middle" stroke="#231f20" stroke-width="0.05">60</text>
<line x1="144.3" y1="467.3" x2="144.3" y2="470.3" stroke="#231f20" stroke-width="1.2"/>
<text x="144.3" y="480.16" font-size="7.4" text-anchor="middle" stroke="#231f20" stroke-width="0.05">72</text>
<line x1="160.75" y1="467.3" x2="160.75" y2="470.3" stroke="#231f20" stroke-width="1.2"/>
<text x="160.75" y="480.16" font-size="7.4" text-anchor="middle" stroke="#231f20" stroke-width="0.05">84</text>
<text x="102" y="491.74" font-size="7.6" text-anchor="middle" textLength="38.7" lengthAdjust="spacingAndGlyphs" stroke="#231f20" stroke-width="0.13">Time (months)</text>
<text transform="translate(16.5,417.4) rotate(-90)" x="0" y="3.17" font-size="8.8" text-anchor="middle" textLength="93" lengthAdjust="spacingAndGlyphs" stroke="#231f20" stroke-width="0.08">Cumulative incidence of death (%)</text>
<polyline points="45.8,462.4 47,460 50,456 52.6,454 56.1,453.5 58.6,453.5 60.6,451.5 63.1,450.5 67.1,450 71.1,449.5 75,448.6 103.75,448.2 105,446.25 108.75,446.25 108.75,444.5 156.25,444.5" fill="none" stroke="#3db54a" stroke-width="1.2" stroke-linejoin="miter"/>
<polyline points="45.8,462.4 47.5,461.3 50,459.5 51.6,458.2 55.1,457.8 58.1,455.5 61.1,454.5 65.1,453.5 70.1,452 76.25,450.2 87.5,449.8 110,449.5 135,448.75 135,443" fill="none" stroke="#0f4c81" stroke-width="1.2" stroke-linejoin="miter"/>
<polyline points="45.8,462.4 45.8,463.6 50.9,463.6 50.9,457.6 80,457.6 80,450 124.5,450" fill="none" stroke="#c8102e" stroke-width="1.2" stroke-linejoin="miter"/>
<line x1="44" y1="379" x2="51.4" y2="379" stroke="#c8102e" stroke-width="1.3"/>
<line x1="44" y1="387" x2="51.4" y2="387" stroke="#0f4c81" stroke-width="1.3"/>
<line x1="44" y1="395.1" x2="51.4" y2="395.1" stroke="#3db54a" stroke-width="1.3"/>
<text x="54.8" y="381.59" font-size="7.2" textLength="23.6" lengthAdjust="spacingAndGlyphs" font-style="italic" stroke="#231f20" stroke-width="0.06">DDX41</text>
<text x="78.6" y="378.78" font-size="4.4" textLength="16.6" lengthAdjust="spacingAndGlyphs" stroke="#231f20" stroke-width="0.04">MutGL</text>
<text x="54.8" y="389.69" font-size="7.2" textLength="11.4" lengthAdjust="spacingAndGlyphs" stroke="#231f20" stroke-width="0.06">Fav</text>
<text x="54.8" y="397.79" font-size="7.2" textLength="24.9" lengthAdjust="spacingAndGlyphs" stroke="#231f20" stroke-width="0.06">Int/Adv</text>
<text x="176" y="223.94" font-size="11.5" textLength="7.2" lengthAdjust="spacingAndGlyphs" font-weight="bold">E</text>
<text x="239.2" y="232.12" font-size="7" textLength="16" lengthAdjust="spacingAndGlyphs" stroke="#231f20" stroke-width="0.06">OS - </text>
<text x="256.9" y="232.12" font-size="7" textLength="23.5" lengthAdjust="spacingAndGlyphs" font-style="italic" stroke="#231f20" stroke-width="0.06">DDX41</text>
<text x="280.6" y="229.11" font-size="4.2" textLength="16.7" lengthAdjust="spacingAndGlyphs" stroke="#231f20" stroke-width="0.04">MutGL</text>
<text x="299.2" y="232.12" font-size="7" textLength="26" lengthAdjust="spacingAndGlyphs" stroke="#231f20" stroke-width="0.06">patients</text>
<line x1="215.4" y1="237.3" x2="215.4" y2="334.45" stroke="#231f20" stroke-width="1.2"/>
<line x1="214.85" y1="333.9" x2="349.2" y2="333.9" stroke="#231f20" stroke-width="1.2"/>
<line x1="212.2" y1="241.5" x2="215.4" y2="241.5" stroke="#231f20" stroke-width="1.2"/>
<text x="209.1" y="244.16" font-size="7.4" text-anchor="end" stroke="#231f20" stroke-width="0.05">100</text>
<line x1="212.2" y1="263.5" x2="215.4" y2="263.5" stroke="#231f20" stroke-width="1.2"/>
<text x="209.1" y="266.16" font-size="7.4" text-anchor="end" stroke="#231f20" stroke-width="0.05">75</text>
<line x1="212.2" y1="285.4" x2="215.4" y2="285.4" stroke="#231f20" stroke-width="1.2"/>
<text x="209.1" y="288.06" font-size="7.4" text-anchor="end" stroke="#231f20" stroke-width="0.05">50</text>
<line x1="212.2" y1="307.4" x2="215.4" y2="307.4" stroke="#231f20" stroke-width="1.2"/>
<text x="209.1" y="310.06" font-size="7.4" text-anchor="end" stroke="#231f20" stroke-width="0.05">25</text>
<line x1="212.2" y1="329.4" x2="215.4" y2="329.4" stroke="#231f20" stroke-width="1.2"/>
<text x="209.1" y="332.06" font-size="7.4" text-anchor="end" stroke="#231f20" stroke-width="0.05">0</text>
<line x1="218.4" y1="333.9" x2="218.4" y2="336.9" stroke="#231f20" stroke-width="1.2"/>
<line x1="236.57" y1="333.9" x2="236.57" y2="336.9" stroke="#231f20" stroke-width="1.2"/>
<line x1="254.74" y1="333.9" x2="254.74" y2="336.9" stroke="#231f20" stroke-width="1.2"/>
<line x1="272.91" y1="333.9" x2="272.91" y2="336.9" stroke="#231f20" stroke-width="1.2"/>
<line x1="291.08" y1="333.9" x2="291.08" y2="336.9" stroke="#231f20" stroke-width="1.2"/>
<line x1="309.25" y1="333.9" x2="309.25" y2="336.9" stroke="#231f20" stroke-width="1.2"/>
<line x1="327.42" y1="333.9" x2="327.42" y2="336.9" stroke="#231f20" stroke-width="1.2"/>
<line x1="345.59" y1="333.9" x2="345.59" y2="336.9" stroke="#231f20" stroke-width="1.2"/>
<text transform="translate(188,285) rotate(-90)" x="0" y="3.24" font-size="9" text-anchor="middle" textLength="53.3" lengthAdjust="spacingAndGlyphs" stroke="#231f20" stroke-width="0.08">OS probability (%)</text>
<polyline points="218.8,241.6 221.7,242.3 225.6,244.5 233.3,244.5 233.3,246.4 241,246.4 242.4,251.4 245.8,254.3 247.7,256.2 249.1,260.2 257.8,260.2 259.2,264.1 261.3,265.5 264.1,266.9 265.5,269.7 266.9,271.5 267.6,274.6 269,277.4 271.1,279.1 272.5,282.3 273.9,284.7 276,285.6 277.4,288.7 278.6,292.2 279.5,297.1 298.5,297.1 299.6,299.9 300.6,303.4 302,307.6 306.2,307.6 307.6,311.8 308.6,318.1 317.8,318.1" fill="none" stroke="#0f4c81" stroke-width="1.3" stroke-linejoin="miter"/>
<polyline points="218.8,241.4 228,241.4 228,246.1 228.5,251.4 230.2,251.4 230.2,258.6 232.8,258.6 232.8,261.5 234.7,261.5 234.7,267.8 237.1,267.8 237.1,270.8 241.4,270.8 241.4,273.3 248.2,273.3 248.2,276.1 318.8,276.1 318.8,293.6 322,293.6" fill="none" stroke="#c8102e" stroke-width="1.3" stroke-linejoin="miter"/>
<line x1="218.2" y1="318.9" x2="226.2" y2="318.9" stroke="#c8102e" stroke-width="1.3"/>
<line x1="218.2" y1="328.2" x2="226.2" y2="328.2" stroke="#0f4c81" stroke-width="1.3"/>
<text x="228.9" y="321.72" font-size="7" textLength="18.8" lengthAdjust="spacingAndGlyphs" stroke="#231f20" stroke-width="0.06">HSCT</text>
<text x="228.9" y="330.22" font-size="7" textLength="30.8" lengthAdjust="spacingAndGlyphs" stroke="#231f20" stroke-width="0.06">No HSCT</text>
<line x1="263.5" y1="318" x2="263.5" y2="328.2" stroke="#231f20" stroke-width="0.8"/>
<text x="265.5" y="325.32" font-size="5.6" textLength="17" lengthAdjust="spacingAndGlyphs" stroke="#231f20" stroke-width="0.05">p=0.5</text>
<text x="226.5" y="363.52" font-size="7" textLength="39.2" lengthAdjust="spacingAndGlyphs" stroke="#231f20" stroke-width="0.06">OS - Int/Adv</text>
<text x="270.3" y="363.52" font-size="7" textLength="21.3" lengthAdjust="spacingAndGlyphs" font-style="italic" stroke="#231f20" stroke-width="0.06">DDX41</text>
<text x="291.8" y="360.51" font-size="4.2" textLength="10" lengthAdjust="spacingAndGlyphs" stroke="#231f20" stroke-width="0.04">WT</text>
<text x="304.3" y="363.52" font-size="7" textLength="27" lengthAdjust="spacingAndGlyphs" stroke="#231f20" stroke-width="0.06">patients</text>
<line x1="215.5" y1="366.7" x2="215.5" y2="467.55" stroke="#231f20" stroke-width="1.2"/>
<line x1="214.95" y1="467" x2="340.3" y2="467" stroke="#231f20" stroke-width="1.2"/>
<line x1="212.3" y1="373.4" x2="215.5" y2="373.4" stroke="#231f20" stroke-width="1.2"/>
<text x="210" y="376.06" font-size="7.4" text-anchor="end" stroke="#231f20" stroke-width="0.05">100</text>
<line x1="212.3" y1="395.2" x2="215.5" y2="395.2" stroke="#231f20" stroke-width="1.2"/>
<text x="210" y="397.86" font-size="7.4" text-anchor="end" stroke="#231f20" stroke-width="0.05">75</text>
<line x1="212.3" y1="417.2" x2="215.5" y2="417.2" stroke="#231f20" stroke-width="1.2"/>
<text x="210" y="419.86" font-size="7.4" text-anchor="end" stroke="#231f20" stroke-width="0.05">50</text>
<line x1="212.3" y1="439" x2="215.5" y2="439" stroke="#231f20" stroke-width="1.2"/>
<text x="210" y="441.66" font-size="7.4" text-anchor="end" stroke="#231f20" stroke-width="0.05">25</text>
<line x1="212.3" y1="460.9" x2="215.5" y2="460.9" stroke="#231f20" stroke-width="1.2"/>
<text x="210" y="463.56" font-size="7.4" text-anchor="end" stroke="#231f20" stroke-width="0.05">0</text>
<line x1="218.2" y1="467" x2="218.2" y2="470" stroke="#231f20" stroke-width="1.2"/>
<text x="218.2" y="479.46" font-size="7.4" text-anchor="middle" stroke="#231f20" stroke-width="0.05">0</text>
<line x1="235.33" y1="467" x2="235.33" y2="470" stroke="#231f20" stroke-width="1.2"/>
<text x="235.33" y="479.46" font-size="7.4" text-anchor="middle" stroke="#231f20" stroke-width="0.05">12</text>
<line x1="252.46" y1="467" x2="252.46" y2="470" stroke="#231f20" stroke-width="1.2"/>
<text x="252.46" y="479.46" font-size="7.4" text-anchor="middle" stroke="#231f20" stroke-width="0.05">24</text>
<line x1="269.59" y1="467" x2="269.59" y2="470" stroke="#231f20" stroke-width="1.2"/>
<text x="269.59" y="479.46" font-size="7.4" text-anchor="middle" stroke="#231f20" stroke-width="0.05">36</text>
<line x1="286.72" y1="467" x2="286.72" y2="470" stroke="#231f20" stroke-width="1.2"/>
<text x="286.72" y="479.46" font-size="7.4" text-anchor="middle" stroke="#231f20" stroke-width="0.05">48</text>
<line x1="303.85" y1="467" x2="303.85" y2="470" stroke="#231f20" stroke-width="1.2"/>
<text x="303.85" y="479.46" font-size="7.4" text-anchor="middle" stroke="#231f20" stroke-width="0.05">60</text>
<line x1="320.98" y1="467" x2="320.98" y2="470" stroke="#231f20" stroke-width="1.2"/>
<text x="320.98" y="479.46" font-size="7.4" text-anchor="middle" stroke="#231f20" stroke-width="0.05">72</text>
<line x1="338.11" y1="467" x2="338.11" y2="470" stroke="#231f20" stroke-width="1.2"/>
<text x="338.11" y="479.46" font-size="7.4" text-anchor="middle" stroke="#231f20" stroke-width="0.05">84</text>
<text x="278.7" y="491.94" font-size="7.6" text-anchor="middle" textLength="38.7" lengthAdjust="spacingAndGlyphs" stroke="#231f20" stroke-width="0.13">Time (months)</text>
<text transform="translate(189,416.7) rotate(-90)" x="0" y="3.24" font-size="9" text-anchor="middle" textLength="54" lengthAdjust="spacingAndGlyphs" stroke="#231f20" stroke-width="0.08">OS probability (%)</text>
<polyline points="218.8,372.6 220.1,377.6 225.2,385.6 230,394.4 234.8,403.3 239.6,409.7 246.1,416.1 252.5,423.3 257.3,428.1 263.7,432.1 268.5,433.7 274.2,435.7 278.4,436.8 284,439.2 287.5,440.6 295.2,441.7 299.5,443 306.5,443.8 336.6,443.8 336.6,453.2" fill="none" stroke="#0f4c81" stroke-width="1.3" stroke-linejoin="miter"/>
<polyline points="218.8,372.6 224.4,372.6 226,375.2 228.4,380 231.6,387.2 234.8,390.4 238.8,395.2 244.4,398.4 250.9,402 256.5,404.5 262.1,406.5 267.7,408.7 274.9,408.7 277,410.4 284,411.8 292.4,412.5 296.6,413.9 300.2,415.3 305.8,415.3 307.2,417 338.7,417" fill="none" stroke="#c8102e" stroke-width="1.3" stroke-linejoin="miter"/>
<line x1="218.75" y1="452.7" x2="226.25" y2="452.7" stroke="#c8102e" stroke-width="1.3"/>
<line x1="218.75" y1="461.3" x2="226.25" y2="461.3" stroke="#0f4c81" stroke-width="1.3"/>
<text x="228.5" y="455.22" font-size="7" textLength="18.8" lengthAdjust="spacingAndGlyphs" stroke="#231f20" stroke-width="0.06">HSCT</text>
<text x="228.5" y="463.82" font-size="7" textLength="32.5" lengthAdjust="spacingAndGlyphs" stroke="#231f20" stroke-width="0.06">No HSCT</text>
<line x1="263.5" y1="454" x2="263.5" y2="463.8" stroke="#231f20" stroke-width="0.8"/>
<g transform="translate(265.7,458.1) scale(0.5)">
<text x="0" y="2.52" font-size="7" textLength="142.8" lengthAdjust="spacingAndGlyphs" fill="#666">HR, 0.60 [95% CI, 0.48-0.74], p&lt;0.001</text>
</g>
<text x="356.5" y="223.84" font-size="11.5" textLength="6.4" lengthAdjust="spacingAndGlyphs" font-weight="bold">F</text>
<text x="406.4" y="232.83" font-size="7.3" textLength="86.8" lengthAdjust="spacingAndGlyphs" stroke="#231f20" stroke-width="0.06">Relapse post HSCT in CR1</text>
<line x1="388.9" y1="238.6" x2="388.9" y2="335.05" stroke="#231f20" stroke-width="1.2"/>
<line x1="388.35" y1="334.5" x2="512" y2="334.5" stroke="#231f20" stroke-width="1.2"/>
<line x1="385.7" y1="242.4" x2="388.9" y2="242.4" stroke="#231f20" stroke-width="1.2"/>
<text x="384.2" y="245.06" font-size="7.4" text-anchor="end" stroke="#231f20" stroke-width="0.05">50</text>
<line x1="385.7" y1="259.96" x2="388.9" y2="259.96" stroke="#231f20" stroke-width="1.2"/>
<text x="384.2" y="262.62" font-size="7.4" text-anchor="end" stroke="#231f20" stroke-width="0.05">40</text>
<line x1="385.7" y1="277.5" x2="388.9" y2="277.5" stroke="#231f20" stroke-width="1.2"/>
<text x="384.2" y="280.16" font-size="7.4" text-anchor="end" stroke="#231f20" stroke-width="0.05">30</text>
<line x1="385.7" y1="295.1" x2="388.9" y2="295.1" stroke="#231f20" stroke-width="1.2"/>
<text x="384.2" y="297.76" font-size="7.4" text-anchor="end" stroke="#231f20" stroke-width="0.05">20</text>
<line x1="385.7" y1="312.6" x2="388.9" y2="312.6" stroke="#231f20" stroke-width="1.2"/>
<text x="384.2" y="315.26" font-size="7.4" text-anchor="end" stroke="#231f20" stroke-width="0.05">10</text>
<line x1="385.7" y1="330.2" x2="388.9" y2="330.2" stroke="#231f20" stroke-width="1.2"/>
<text x="384.2" y="332.86" font-size="7.4" text-anchor="end" stroke="#231f20" stroke-width="0.05">0</text>
<line x1="392.1" y1="334.5" x2="392.1" y2="337.5" stroke="#231f20" stroke-width="1.2"/>
<line x1="408.82" y1="334.5" x2="408.82" y2="337.5" stroke="#231f20" stroke-width="1.2"/>
<line x1="425.54" y1="334.5" x2="425.54" y2="337.5" stroke="#231f20" stroke-width="1.2"/>
<line x1="442.26" y1="334.5" x2="442.26" y2="337.5" stroke="#231f20" stroke-width="1.2"/>
<line x1="458.98" y1="334.5" x2="458.98" y2="337.5" stroke="#231f20" stroke-width="1.2"/>
<line x1="475.7" y1="334.5" x2="475.7" y2="337.5" stroke="#231f20" stroke-width="1.2"/>
<line x1="492.42" y1="334.5" x2="492.42" y2="337.5" stroke="#231f20" stroke-width="1.2"/>
<line x1="509.14" y1="334.5" x2="509.14" y2="337.5" stroke="#231f20" stroke-width="1.2"/>
<text transform="translate(365.8,284.7) rotate(-90)" x="0" y="3.17" font-size="8.8" text-anchor="middle" textLength="95.6" lengthAdjust="spacingAndGlyphs" stroke="#231f20" stroke-width="0.08">Cumulative incidence of relapse (%)</text>
<polyline points="392.5,330 394.5,322.5 396.25,315 398.75,307.5 402.5,300 405,297.5 407.5,293.75 411.25,291.25 413.75,288.75 421.25,288.75 422.5,287 426.25,287 427.5,283.75 432.5,283 437.5,282 441.25,281.25 445,280 446.25,277.5 453.75,277.5 455,276.25 500.5,276.25" fill="none" stroke="#3db54a" stroke-width="1.3" stroke-linejoin="miter"/>
<polyline points="392.3,330.2 395.2,330.2 395.2,325.6 401,325.6 401,320.4 452,320.4 452,301.6 480,301.6" fill="none" stroke="#c8102e" stroke-width="1.3" stroke-linejoin="miter"/>
<line x1="393.75" y1="245" x2="401.25" y2="245" stroke="#c8102e" stroke-width="1.3"/>
<line x1="393.75" y1="254.5" x2="401.25" y2="254.5" stroke="#3db54a" stroke-width="1.3"/>
<text x="403.8" y="247.29" font-size="7.2" textLength="23.6" lengthAdjust="spacingAndGlyphs" font-style="italic" stroke="#231f20" stroke-width="0.06">DDX41</text>
<text x="427.6" y="244.48" font-size="4.4" textLength="16.6" lengthAdjust="spacingAndGlyphs" stroke="#231f20" stroke-width="0.04">MutGL</text>
<text x="403.8" y="257.09" font-size="7.2" textLength="25.3" lengthAdjust="spacingAndGlyphs" stroke="#231f20" stroke-width="0.06">Int/Adv</text>
<text x="411" y="364.13" font-size="7.3" textLength="77.8" lengthAdjust="spacingAndGlyphs" stroke="#231f20" stroke-width="0.06">NRM post HSCT in CR1</text>
<line x1="389.1" y1="366.8" x2="389.1" y2="467.75" stroke="#231f20" stroke-width="1.2"/>
<line x1="388.55" y1="467.2" x2="512" y2="467.2" stroke="#231f20" stroke-width="1.2"/>
<line x1="385.9" y1="371.2" x2="389.1" y2="371.2" stroke="#231f20" stroke-width="1.2"/>
<text x="383.2" y="373.86" font-size="7.4" text-anchor="end" stroke="#231f20" stroke-width="0.05">50</text>
<line x1="385.9" y1="389.6" x2="389.1" y2="389.6" stroke="#231f20" stroke-width="1.2"/>
<text x="383.2" y="392.26" font-size="7.4" text-anchor="end" stroke="#231f20" stroke-width="0.05">40</text>
<line x1="385.9" y1="408" x2="389.1" y2="408" stroke="#231f20" stroke-width="1.2"/>
<text x="383.2" y="410.66" font-size="7.4" text-anchor="end" stroke="#231f20" stroke-width="0.05">30</text>
<line x1="385.9" y1="426.4" x2="389.1" y2="426.4" stroke="#231f20" stroke-width="1.2"/>
<text x="383.2" y="429.06" font-size="7.4" text-anchor="end" stroke="#231f20" stroke-width="0.05">20</text>
<line x1="385.9" y1="444.8" x2="389.1" y2="444.8" stroke="#231f20" stroke-width="1.2"/>
<text x="383.2" y="447.46" font-size="7.4" text-anchor="end" stroke="#231f20" stroke-width="0.05">10</text>
<line x1="385.9" y1="463.2" x2="389.1" y2="463.2" stroke="#231f20" stroke-width="1.2"/>
<text x="383.2" y="465.86" font-size="7.4" text-anchor="end" stroke="#231f20" stroke-width="0.05">0</text>
<line x1="392.8" y1="467.2" x2="392.8" y2="470.2" stroke="#231f20" stroke-width="1.2"/>
<text x="392.8" y="479.86" font-size="7.4" text-anchor="middle" stroke="#231f20" stroke-width="0.05">0</text>
<line x1="408.93" y1="467.2" x2="408.93" y2="470.2" stroke="#231f20" stroke-width="1.2"/>
<text x="408.93" y="479.86" font-size="7.4" text-anchor="middle" stroke="#231f20" stroke-width="0.05">12</text>
<line x1="425.06" y1="467.2" x2="425.06" y2="470.2" stroke="#231f20" stroke-width="1.2"/>
<text x="425.06" y="479.86" font-size="7.4" text-anchor="middle" stroke="#231f20" stroke-width="0.05">24</text>
<line x1="441.19" y1="467.2" x2="441.19" y2="470.2" stroke="#231f20" stroke-width="1.2"/>
<text x="441.19" y="479.86" font-size="7.4" text-anchor="middle" stroke="#231f20" stroke-width="0.05">36</text>
<line x1="457.32" y1="467.2" x2="457.32" y2="470.2" stroke="#231f20" stroke-width="1.2"/>
<text x="457.32" y="479.86" font-size="7.4" text-anchor="middle" stroke="#231f20" stroke-width="0.05">48</text>
<line x1="473.45" y1="467.2" x2="473.45" y2="470.2" stroke="#231f20" stroke-width="1.2"/>
<text x="473.45" y="479.86" font-size="7.4" text-anchor="middle" stroke="#231f20" stroke-width="0.05">60</text>
<line x1="489.58" y1="467.2" x2="489.58" y2="470.2" stroke="#231f20" stroke-width="1.2"/>
<text x="489.58" y="479.86" font-size="7.4" text-anchor="middle" stroke="#231f20" stroke-width="0.05">72</text>
<line x1="505.71" y1="467.2" x2="505.71" y2="470.2" stroke="#231f20" stroke-width="1.2"/>
<text x="505.71" y="479.86" font-size="7.4" text-anchor="middle" stroke="#231f20" stroke-width="0.05">84</text>
<text x="450.1" y="492.14" font-size="7.6" text-anchor="middle" textLength="67.4" lengthAdjust="spacingAndGlyphs" stroke="#231f20" stroke-width="0.13">Time from HSCT (months)</text>
<text transform="translate(366.4,417.4) rotate(-90)" x="0" y="3.17" font-size="8.8" text-anchor="middle" textLength="102.8" lengthAdjust="spacingAndGlyphs" stroke="#231f20" stroke-width="0.08">Cumulative incidence of death (%)</text>
<polyline points="392.6,463.2 394,454.2 395.9,447.6 398.6,444.3 401.2,442.1 404.5,439 407.8,437.7 413.1,436.8 414.5,436 421.2,436 422.7,434.4 426.9,434.4 428.5,433.1 439.6,433.1 441,430.6 445.8,430.6 447.3,429.2 449.6,429.2 450.6,428.1 469.8,428.1 469.8,424.4 500.6,424.4" fill="none" stroke="#3db54a" stroke-width="1.3" stroke-linejoin="miter"/>
<polyline points="392.6,463.2 393.3,455.6 394,447.6 394.3,436.4 394.9,431.7 398.3,431.7 398.3,427.1 400.2,427.1 400.2,421.2 401.2,421.2 401.2,415.9 402.3,415.9 402.3,410.6 406.5,410.6 406.5,405.6 479.6,405.6" fill="none" stroke="#c8102e" stroke-width="1.3" stroke-linejoin="miter"/>
<line x1="394.2" y1="378.6" x2="401.8" y2="378.6" stroke="#c8102e" stroke-width="1.3"/>
<line x1="394.2" y1="388.4" x2="401.8" y2="388.4" stroke="#3db54a" stroke-width="1.3"/>
<text x="405" y="380.52" font-size="7" textLength="23" lengthAdjust="spacingAndGlyphs" font-style="italic" stroke="#231f20" stroke-width="0.06">DDX41</text>
<text x="428.3" y="377.51" font-size="4.2" textLength="16.8" lengthAdjust="spacingAndGlyphs" stroke="#231f20" stroke-width="0.04">MutGL</text>
<text x="405" y="391.02" font-size="7" textLength="23.5" lengthAdjust="spacingAndGlyphs" stroke="#231f20" stroke-width="0.06">Int/Adv</text>
</svg></body></html>
